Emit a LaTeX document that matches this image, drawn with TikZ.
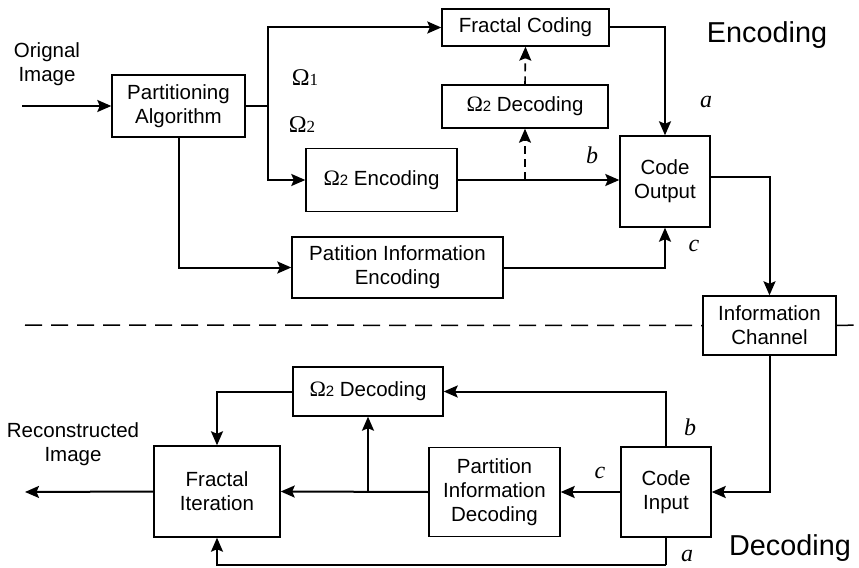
\documentclass[tikz,border=0pt]{standalone}
\usepackage{fontspec}
\setmainfont{Liberation Sans}
\newfontfamily\serifom{Liberation Serif}
\usetikzlibrary{arrows.meta}
\begin{document}
\begin{tikzpicture}[x=1bp,y=-1bp,
  box/.style={draw,line width=1.4bp,inner sep=0pt,align=center,font=\fontsize{20.5bp}{24bp}\selectfont},
  arr/.style={line width=2bp,-{Stealth[length=14bp,width=12bp,inset=2.5bp]}},
  ln/.style={line width=2bp},
  darr/.style={line width=1.6bp,dash pattern=on 8bp off 5bp,-{Stealth[length=14bp,width=12bp,inset=2.5bp]}},
  lab/.style={font=\fontsize{20.5bp}{24bp}\selectfont,align=center},
  it/.style={font=\serifom\itshape\fontsize{24bp}{26bp}\selectfont},
  big/.style={font=\fontsize{28.8bp}{32bp}\selectfont}]
\useasboundingbox (0,0) rectangle (859,568);
\newcommand{\Om}[1]{{\serifom\fontsize{24bp}{26bp}\selectfont\char"03A9}{\serifom\fontsize{17bp}{18bp}\selectfont #1}}
\newcommand{\Omb}[1]{{\serifom\fontsize{22bp}{26bp}\selectfont\char"03A9}{\fontsize{15bp}{18bp}\selectfont #1}}
% boxes
\node[box,minimum width=133bp,minimum height=62bp] (part) at (178.5,106) {Partitioning\\Algorithm};
\node[box,minimum width=167bp,minimum height=37bp] (fc) at (525.5,27.5) {Fractal Coding};
\node[box,minimum width=166bp,minimum height=43bp] (dec1) at (525,106.5) {\Omb{2} Decoding};
\node[box,minimum width=151bp,minimum height=63bp] (enc2) at (381.5,180) {\Omb{2} Encoding};
\node[box,minimum width=211bp,minimum height=61bp] (pie) at (397.5,267.5) {Patition Information\\Encoding};
\node[box,minimum width=90bp,minimum height=91bp] (cout) at (665,181.5) {Code\\Output};
\node[box,minimum width=133bp,minimum height=59bp] (ich) at (769.5,325.5) {Information\\Channel};
\node[box,minimum width=150bp,minimum height=49bp] (dec2) at (368,391.5) {\Omb{2} Decoding};
\node[box,minimum width=126bp,minimum height=91bp] (fi) at (217,491.5) {Fractal\\Iteration};
\node[box,minimum width=131bp,minimum height=89bp] (pid) at (494.5,492) {Partition\\Information\\Decoding};
\node[box,minimum width=90bp,minimum height=90bp] (cin) at (666,492) {Code\\Input};
% texts
\node[lab] (orig) at (47,64) {Orignal\\Image};
\node[lab] (rec) at (73,444) {Reconstructed\\Image};
\node[big] (enct) at (767,35) {Encoding};
\node[big] (dect) at (790,548) {Decoding};
\node (om1) at (305,78) {\Om{1}};
\node (om2) at (302,125) {\Om{2}};
\node[it] (la1) at (706,102) {a};
\node[it] (lb1) at (592,155) {b};
\node[it] (lc1) at (694,246) {c};
\node[it] (lb2) at (690,427) {b};
\node[it] (lc2) at (600,473) {c};
\node[it] (la2) at (687,556) {a};
% coordinates
\coordinate (inpt) at (22,106);
\coordinate (br) at (268,106);
\coordinate (tap) at (525,180);
\coordinate (tap2) at (368,492);
\coordinate (outp) at (25,492);
\coordinate (bot) at (666,565);
\coordinate (dl) at (25,325);
\coordinate (dr) at (859,325);
% connectors encoding
\draw[arr] (inpt) -- (part.west);
\draw[ln] (part.east) -- (br);
\draw[arr] (br) |- (fc.west);
\draw[arr] (br) |- (enc2.west);
\draw[arr] (part.south) |- (pie.west);
\draw[arr] (enc2.east) -- (enc2.east -| cout.west);
\draw[darr] (tap) -- (dec1.south);
\draw[darr] (dec1.north) -- (fc.south);
\draw[arr] (fc.east) -| (cout.north);
\draw[arr] (pie.east) -| (cout.south);
\draw[arr] ([yshift=4.5bp]cout.east) -| (ich.north);
% separator
\draw[line width=1.5bp,dash pattern=on 17bp off 9bp] (dl) -- (ich.west);
\draw[line width=1.5bp,dash pattern=on 17bp off 9bp] (ich.east) -- (dr);
% connectors decoding
\draw[arr] (ich.south) |- (cin.east);
\draw[arr] (cin.west) -- (pid.west -| pid.east);
\draw[arr] (pid.west) -- (fi.east);
\draw[arr] (tap2) -- (dec2.south);
\draw[arr] (cin.north) |- (dec2.east);
\draw[arr] (dec2.west) -| (fi.north);
\draw[ln] (cin.south) -- (bot);
\draw[arr] (bot) -| (fi.south);
\draw[arr] (fi.west) -- (outp);
\end{tikzpicture}
\end{document}
